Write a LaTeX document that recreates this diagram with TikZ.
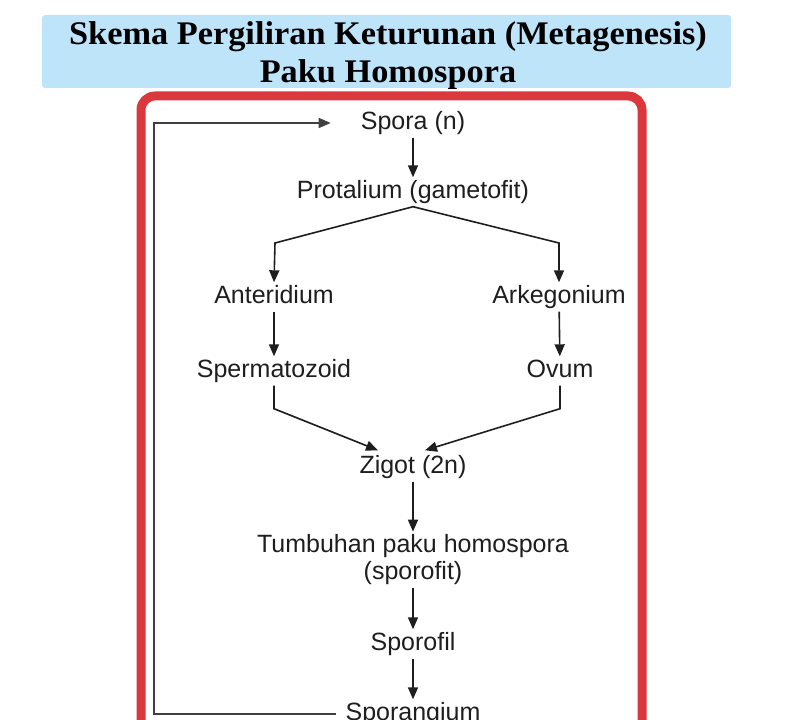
\documentclass[tikz,border=0pt]{standalone}
\usepackage{fontspec}
\usepackage{tikz}
\usetikzlibrary{arrows.meta, positioning, calc}
\newfontfamily\labelfont{Liberation Sans}
\newfontfamily\titlefont[FakeStretch=1.04]{Liberation Serif}
\definecolor{titlebg}{RGB}{190,228,250}
\definecolor{framered}{RGB}{218,56,60}
\definecolor{inkgray}{RGB}{30,30,30}

\begin{document}
\begin{tikzpicture}[x=1pt, y=-1pt,
    lbl/.style={font=\labelfont\fontsize{25}{27}\selectfont, text=inkgray, inner sep=3pt, text height=18pt, text depth=5pt},
    ttl/.style={font=\titlefont\bfseries\fontsize{33}{30}\selectfont, anchor=base, text=black},
    arr/.style={draw=inkgray, line width=1.6pt, -{Triangle[length=12pt, width=10pt]}},
    loopline/.style={draw=inkgray!85, line width=1.5pt}]
    \useasboundingbox (0,0) rectangle (791,719);
    \clip (0,0) rectangle (791,719);

    % Title
    \fill[titlebg, rounded corners=3pt] (42,15) rectangle (731,88);
    \node[ttl] (title) at (388,45) {Skema Pergiliran Keturunan (Metagenesis)};
    \node[ttl] (subtitle) at (388,83) {Paku Homospora};

    % Red frame
    \draw[framered, line width=9pt, rounded corners=14pt] (141,96) rectangle (642,780);

    % Stages
    \node[lbl] (spora) at (413,123) {Spora (n)};
    \node[lbl] (prot) at (413,192) {Protalium (gametofit)};
    \node[lbl] (anter) at (274,297) {Anteridium};
    \node[lbl] (arkeg) at (559,297) {Arkegonium};
    \node[lbl] (sperm) at (274,371) {Spermatozoid};
    \node[lbl] (ovum) at (560,371) {Ovum};
    \node[lbl] (zigot) at (413,467) {Zigot (2n)};
    \node[lbl, text height=, text depth=, align=center] (tumb) at (413,560) {Tumbuhan paku homospora\\(sporofit)};
    \node[lbl] (sfil) at (413,644) {Sporofil};
    \node[lbl] (sang) at (413,714) {Sporangium};

    % Helper points
    \coordinate (forkL) at (275,243);
    \coordinate (forkR) at (559,243);
    \coordinate (loopx) at (154,0);

    % Gametophyte branch
    \draw[arr] (spora) -- (prot);
    \draw[arr] (prot.south) -- (forkL) -- (anter.north);
    \draw[arr] (prot.south) -- (forkR) -- (arkeg.north);
    \draw[arr] (anter) -- (sperm);
    \draw[arr] (arkeg) -- (ovum);

    % Fertilisation
    \draw[arr] (sperm.south) -- ++(0,23) -- ($(zigot.north)+(-35,-2)$);
    \draw[arr] (ovum.south) -- ++(0,23) -- ($(zigot.north)+(12,-2)$);

    % Sporophyte
    \draw[arr] (zigot) -- (tumb);
    \draw[arr] (tumb) -- (sfil);
    \draw[arr] (sfil) -- (sang);

    % Back to spores
    \draw[loopline, -{Triangle[length=12pt, width=10pt]}, shorten >=27pt, shorten <=6pt]
        (sang.west) -- (sang.west -| loopx) |- (spora.west);
\end{tikzpicture}
\end{document}
